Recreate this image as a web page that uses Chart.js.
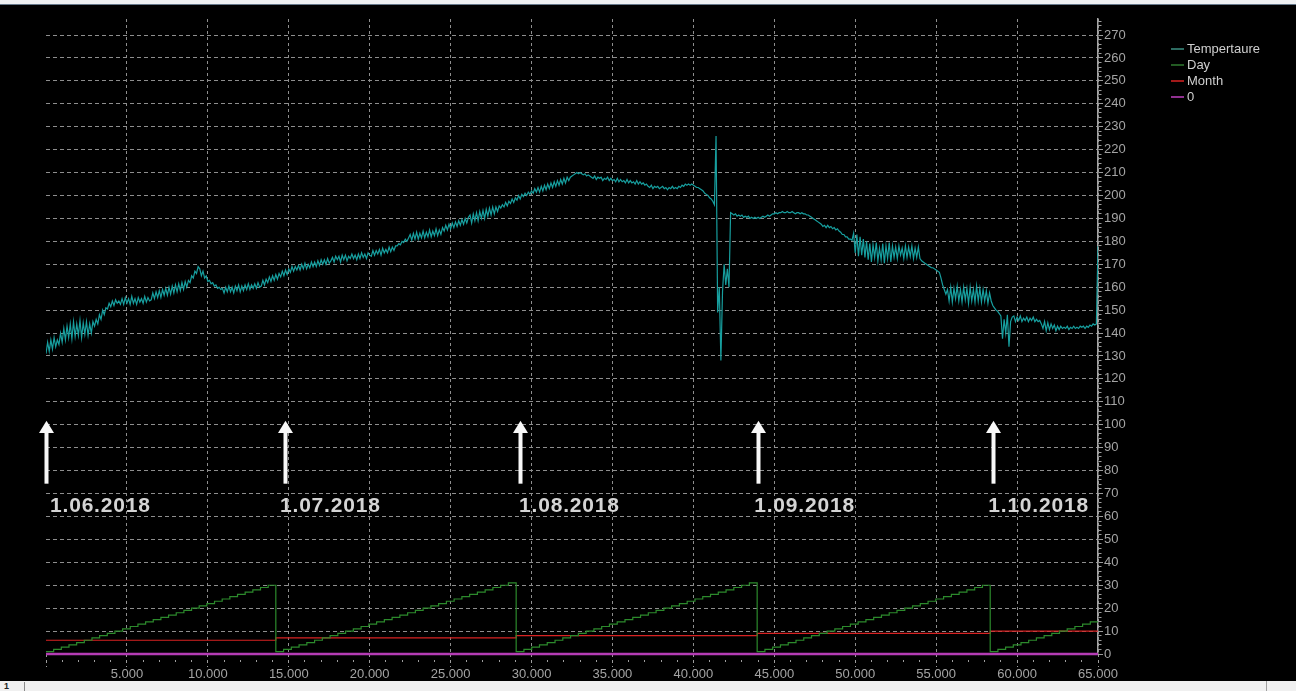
<!DOCTYPE html>
<html>
<head>
<meta charset="utf-8">
<script src="https://cdn.jsdelivr.net/npm/chart.js@4.4.1/dist/chart.umd.min.js"></script>
<style>
  html, body { margin: 0; padding: 0; background: #000; width: 1296px; height: 691px; overflow: hidden;
    font-family: "Liberation Sans", Arial, sans-serif; }
  #plot { position: absolute; left: 0; top: 0; }
  #topbar { position: absolute; left: 0; top: 0; width: 1296px; height: 4px; background: #eef0f2;
    border-bottom: 1px solid #66788a; }
  #status { position: absolute; left: 0; top: 681px; width: 1296px; height: 10px; background: #f0f0f0; }
  #status .num { position: absolute; left: 4px; top: 0; font-size: 9px; line-height: 10px; color: #222; font-weight: bold; }
  #status .sep { position: absolute; left: 24px; top: 1px; width: 1px; height: 9px; background: #8a8a8a; }
  #status .grip { position: absolute; left: 1266px; top: 0; width: 1px; height: 10px; background: #a0a0a0; }
</style>
</head>
<body>
<canvas id="plot" width="1296" height="691"></canvas>
<div id="topbar"></div>
<div id="status"><span class="num">1</span><div class="sep"></div><div class="grip"></div></div>
<script>
// ---- logged data ----
const sampleEnd = 65000;          // last sample index on the x axis
const tempStep = 100;             // samples between stored temperature readings

// temperature reading every 100 samples, starting at sample 0
const temperature = [
  131,136,132,137,133,138,134,137,135,
  140,136,142,137,143,138,144,137.5,145,138.5,144,139,145.5,138,144.5,139.5,145,139,144,140,145,
  143,146,144,148,146,150,148,151,
  150.5,153,151.5,154,152,154.5,153,154,
  152.5,155,152.5,155.5,153,155,152.5,156,153,155,152.5,155.5,153.5,155,153,156,153.5,155.5,154,
  154.5,157.5,155,158,155.5,158.5,155.5,159,156.5,159.5,156.5,160,157,160.5,157.5,161,158,161.5,158.5,162,159,162.5,160,
  163,162,165,164,167,166,169,
  168,165,167,164,165,162.5,163,161.5,162,160.5,161,159.5,160,159,159.5,
  157.5,160,158,160.5,158,160,157.5,160.5,158.5,161,158,160.5,158.5,161,159,161.5,159,161,159.5,161.5,159.5,162,160,
  160.5,163,161,163.5,162,164.5,162.5,165,163,165.5,163.5,166,164.5,167,165,167.5,165.5,168,
  166.5,169,167,169,167.5,169.5,167.5,170,168,170.5,168,170,168.5,171,169,171,169,171.5,169.5,172,170,172,170,172.5,170.5,
  171.5,173,171,173.5,172,173.5,171,174,172,174,171.5,173.5,172.5,174.5,172.5,174,172,174.5,172.5,175,173,174.5,172.5,175,174,
  173.5,176,174,176,174.5,176.5,174,177,175,176.5,175,177.5,175.5,177.5,176,178,
  178,179,178.5,180,179.5,181,180,181.5,
  183,180.5,183.5,181,184,181,183.5,181.5,184.5,181.5,184,182,185,182,184.5,182.5,185.5,182.5,185,183,186,
  184.5,187,185,187.5,185.5,188,186,188.5,186.5,189,187,189.5,187.5,190,188,190.5,
  191.5,188,192,189,192.5,189,193,190,193.5,190,194,191,194.5,191.5,195,192,195,193,195.5,
  194.5,196,195,197,195.5,197.5,196.5,198.5,197,199,198,200,198.5,200.5,199.5,201,200,201.5,200.5,202,
  201,203,201.5,203.5,201.5,204,202,204.5,202.5,205,203,205.5,203.5,206,204,206.5,204.5,207,205,207.5,205.5,208,206.5,
  208,208.5,209,209.5,210,209.5,210,209.5,209,209.5,208.5,209,208.5,208,
  207.5,208.5,207,208,207.5,208,206.5,207.5,207,208,206.5,207.5,206.5,207,206,207.5,206,207,206,206.5,
  205.5,207,205.5,206.5,205.5,206,205,206.5,205,206,205,205.5,204.5,205,
  204,203.5,204.5,203,204,203.5,204,203,203.5,204,203,203.5,202.5,203.5,203,204,
  203,203.5,203,204,203.5,204.5,204,205,204.5,205,204.5,205,204.5,204,203.5,203.5,
  203,202.5,202,201,200.5,200,199,198.5,197.5,
  196,226,149,160,128,158,170,161,168,160,192.5,
  192,191.5,192,191,191.5,191,191.5,190.5,191,190.5,191,190,190.5,190,190.5,190,190.5,190,190.5,191,190.5,191,191.5,191,191.5,192,
  192,192.5,192,192.5,192.5,193,192.5,192.5,193,192.5,192.5,193,192.5,192,192.5,192.5,192,192.5,192,192,191.5,
  191.5,191,190.5,190,189.5,189,188.5,188,
  187.5,186.5,187,186,187,186,186.5,185.5,186,185,185.5,184.5,
  184,183,183,182,182,181,181,180.5,
  183.5,175,183,173.5,182,174,181,173,180,
  172,179,171,178.5,173,179.5,171.5,177,172,179,170.5,178,172.5,179.5,171,178,
  173,177.5,172.5,178,174,177,172.5,178,173,177.5,173.5,178,172.5,177,173,177.5,172.5,
  171.5,171,170.5,170,169.5,169,168.5,168.5,168,167.5,167,166.5,
  164,161,159,157,
  159,154,160,153.5,159.5,155,160.5,154,159,153.5,160,154.5,159.5,153,160,154,159,153.5,160.5,154,159.5,153.5,159,154,158.5,153,157.5,
  154,152,151,150,149.5,148.5,147.5,
  137.5,146,140,148,134,145,147,
  147.5,145,147,145.5,147.5,145,146.5,145.5,147,145,146.5,145.5,147,145,146,145,145.5,
  144,142,145,141,144.5,141.5,144,142,143.5,141,143,141.5,143,142,
  142.5,142,143,141.5,142.5,142,143,142,142.5,142,143,142.5,143,142,143,142.5,143.5,143,144,143.5,144,
  178
];

// calendar counters
const monthStartSample = [0, 14200, 29050, 43940, 58340];
const monthNumber      = [6, 7, 8, 9, 10];
const daysLogged       = [30, 31, 31, 30, 14];

// axis ticks
const xTickStep = 1000, xLabelStep = 5000;
const yMin = 0, yMax = 277, yTickStep = 2, yLabelStep = 10;

// date markers
const markerSample = [0, 14770, 29300, 44000, 58530];
const markerLabelSample = [250, 14460, 29230, 43760, 58220];
const markerLabels = ['1.06.2018', '1.07.2018', '1.08.2018', '1.09.2018', '1.10.2018'];
const arrowTipValue = 101.8, arrowHeadValue = 96.4, arrowTailValue = 74.3, markerTextValue = 64.4;

// ---- series points ----
const tempPoints = temperature.map((v, i) => ({ x: i * tempStep, y: v }));

const dayPoints = [];
monthStartSample.forEach((start, m) => {
  const next = m + 1 < monthStartSample.length ? monthStartSample[m + 1] : sampleEnd;
  const width = (next - start) / daysLogged[m];
  for (let d = 1; d <= daysLogged[m]; d++) dayPoints.push({ x: start + (d - 1) * width, y: d });
});
dayPoints.push({ x: sampleEnd, y: daysLogged[daysLogged.length - 1] });

const monthPoints = monthStartSample.map((s, i) => ({ x: s, y: monthNumber[i] }));
monthPoints.push({ x: sampleEnd, y: monthNumber[monthNumber.length - 1] });

const zeroPoints = [{ x: 0, y: 0 }, { x: sampleEnd, y: 0 }];

const FONT = '"Liberation Sans", Arial, sans-serif';

// legend in the upper right, drawn from the datasets
const seriesKey = {
  id: 'seriesKey',
  afterDraw(chart) {
    const ctx = chart.ctx;
    ctx.save();
    ctx.font = '13px ' + FONT;
    ctx.textBaseline = 'middle';
    chart.data.datasets.forEach((ds, i) => {
      const y = 48.5 + i * 16.2;
      ctx.strokeStyle = ds.keyColor || ds.borderColor;
      ctx.lineWidth = 1.5;
      ctx.beginPath();
      ctx.moveTo(1171, Math.round(y));
      ctx.lineTo(1184, Math.round(y));
      ctx.stroke();
      ctx.fillStyle = '#cfcfcf';
      ctx.fillText(ds.label, 1187, y + 0.5);
    });
    ctx.restore();
  }
};

// white arrows and dates marking the first day of each month
const dateMarkers = {
  id: 'dateMarkers',
  afterDraw(chart) {
    const { ctx, scales: { x, y } } = chart;
    ctx.save();
    ctx.fillStyle = '#f8f8f8';
    const tip = y.getPixelForValue(arrowTipValue);
    const head = y.getPixelForValue(arrowHeadValue);
    const tail = y.getPixelForValue(arrowTailValue);
    markerSample.forEach(s => {
      const px = Math.round(x.getPixelForValue(s)) + 0.5;
      ctx.fillRect(px - 2, head - 1, 4, tail - head + 1);
      ctx.beginPath();
      ctx.moveTo(px, tip);
      ctx.lineTo(px + 7.5, head);
      ctx.lineTo(px - 7.5, head);
      ctx.closePath();
      ctx.fill();
    });
    ctx.font = 'bold 21px ' + FONT;
    ctx.letterSpacing = '0.8px';
    ctx.textBaseline = 'middle';
    ctx.fillStyle = '#d4d4d4';
    const ty = y.getPixelForValue(markerTextValue);
    markerLabels.forEach((t, i) => {
      ctx.fillText(t, x.getPixelForValue(markerLabelSample[i]), ty);
    });
    ctx.restore();
  }
};

const GRID = '#8e8e8e';
const TICK = '#9c9c9c';

new Chart(document.getElementById('plot'), {
  type: 'line',
  data: {
    datasets: [
      { label: 'Tempertaure', data: tempPoints, borderColor: '#179f9f', keyColor: '#3d8f82',
        borderWidth: 1.2, pointRadius: 0, tension: 0 },
      { label: 'Day', data: dayPoints, borderColor: '#2c8a2c', keyColor: '#2f7a2f',
        borderWidth: 1.2, pointRadius: 0, stepped: true },
      { label: 'Month', data: monthPoints, borderColor: '#d82222',
        borderWidth: 1.2, pointRadius: 0, stepped: true },
      { label: '0', data: zeroPoints, borderColor: '#b43cb4', keyColor: '#c040c0',
        borderWidth: 2.5, pointRadius: 0, clip: 4 }
    ]
  },
  options: {
    responsive: false,
    animation: false,
    devicePixelRatio: 1,
    parsing: false,
    layout: { padding: { left: 46, top: 19, right: 0, bottom: 0 } },
    plugins: { legend: { display: false }, tooltip: { enabled: false } },
    scales: {
      x: {
        type: 'linear',
        min: 0,
        max: sampleEnd,
        afterFit(scale) { scale.height = 37; },
        border: { display: false, dash: [3, 3] },
        grid: {
          color: c => (c.tick && c.tick.value > 0 && c.tick.value % xLabelStep === 0) ? GRID : 'rgba(0,0,0,0)',
          lineWidth: 1,
          tickLength: 13,
          tickColor: TICK,
          tickBorderDash: c => (c.tick && c.tick.value % xLabelStep === 0) ? [3, 3] : [0, 6, 2, 40]
        },
        ticks: {
          stepSize: xTickStep,
          autoSkip: false,
          maxRotation: 0,
          padding: 0,
          color: '#a4a4a4',
          font: { family: FONT, size: 13 },
          callback: v => (v > 0 && v % xLabelStep === 0) ? (v / 1000).toFixed(3) : ''
        }
      },
      y: {
        type: 'linear',
        position: 'right',
        min: yMin,
        max: yMax,
        afterFit(scale) { scale.width = 198; },
        border: { display: true, color: '#a6a6a6', width: 1.5, dash: [4, 3] },
        grid: {
          color: c => (c.tick && c.tick.value > 0 && c.tick.value % yLabelStep === 0) ? GRID : 'rgba(0,0,0,0)',
          lineWidth: 1,
          tickLength: 5,
          tickColor: TICK,
          tickBorderDash: c => (c.tick && c.tick.value % yLabelStep === 0) ? [] : [3, 10]
        },
        ticks: {
          stepSize: yTickStep,
          includeBounds: false,
          autoSkip: false,
          padding: 1,
          color: '#a4a4a4',
          font: { family: FONT, size: 13 },
          callback: v => (v % yLabelStep === 0) ? String(v) : ''
        }
      }
    }
  },
  plugins: [seriesKey, dateMarkers]
});
</script>
</body>
</html>
